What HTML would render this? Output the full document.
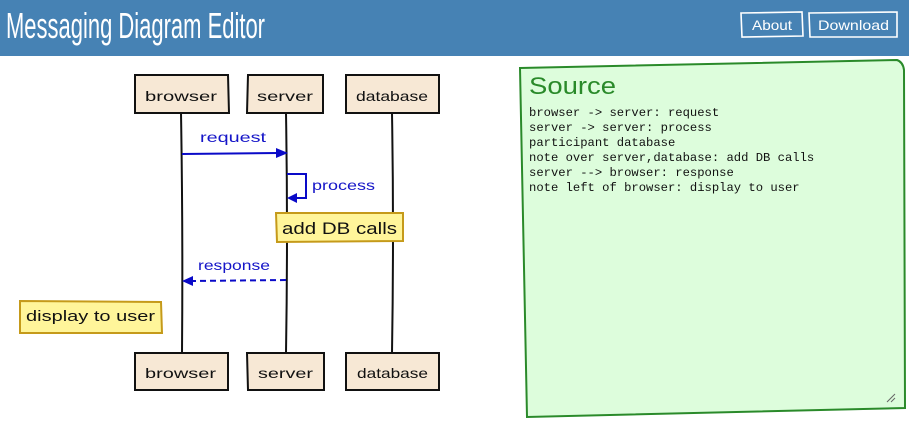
<!DOCTYPE html>
<html><head><meta charset="utf-8"><style>
html,body{margin:0;padding:0;background:#fff;width:909px;height:423px;overflow:hidden}
svg{display:block}
.h{font-family:"Liberation Sans",sans-serif}
.m{font-family:"Liberation Mono",monospace;font-size:12.2px;fill:#111}
</style></head><body>
<svg width="909" height="423" viewBox="0 0 909 423" xmlns="http://www.w3.org/2000/svg">
<rect x="0" y="0" width="909" height="56" fill="#4682b4"/>
<text class="h" x="6" y="38" font-size="36" fill="#fff" textLength="259" lengthAdjust="spacingAndGlyphs">Messaging Diagram Editor</text>
<path d="M741 13 L802 12 L803 36 L742 37 Z" fill="none" stroke="#fff" stroke-width="1.6"/>
<text class="h" x="752" y="30" font-size="14" fill="#fff" textLength="40" lengthAdjust="spacingAndGlyphs">About</text>
<path d="M809 13 L897 12 L897 37 L810 37 Z" fill="none" stroke="#fff" stroke-width="1.6"/>
<text class="h" x="818" y="30" font-size="14" fill="#fff" textLength="71" lengthAdjust="spacingAndGlyphs">Download</text>

<!-- lifelines -->
<g stroke="#111" stroke-width="2" fill="none">
<path d="M181 113 Q183 230 182 353"/>
<path d="M286 113 Q288 230 286 353"/>
<path d="M392 113 Q394 230 392 353"/>
</g>

<!-- participant boxes -->
<g fill="#f7e8d5" stroke="#111" stroke-width="2">
<path d="M135 75 L228 75 L229 113 L135 113 Z"/>
<path d="M248 75 L323 75 L323 113 L247 113 Z"/>
<path d="M346 75 L439 75 L439 113 L346 113 Z"/>
<path d="M135 353 L228 353 L228 390 L135 390 Z"/>
<path d="M247 353 L324 353 L324 390 L248 390 Z"/>
<path d="M346 353 L439 353 L439 390 L346 390 Z"/>
</g>
<g class="h" font-size="14" fill="#111">
<text x="145" y="101" textLength="72" lengthAdjust="spacingAndGlyphs">browser</text>
<text x="257" y="101" textLength="56" lengthAdjust="spacingAndGlyphs">server</text>
<text x="356" y="101" textLength="72" lengthAdjust="spacingAndGlyphs">database</text>
<text x="145" y="378" textLength="71" lengthAdjust="spacingAndGlyphs">browser</text>
<text x="258" y="378" textLength="55" lengthAdjust="spacingAndGlyphs">server</text>
<text x="357" y="378" textLength="71" lengthAdjust="spacingAndGlyphs">database</text>
</g>

<!-- request -->
<path d="M182 154 L278 153" stroke="#0a0ac8" stroke-width="2" fill="none"/>
<path d="M288 153 L276 148 L276 158 Z" fill="#0a0ac8"/>
<text class="h" x="200" y="142" font-size="14" fill="#1515c8" textLength="66" lengthAdjust="spacingAndGlyphs">request</text>

<!-- process self loop -->
<path d="M287 174 L306 174 L306 198 L295 198" stroke="#0a0ac8" stroke-width="2" fill="none"/>
<path d="M287 198 L297 193 L297 203 Z" fill="#0a0ac8"/>
<text class="h" x="312" y="190" font-size="14" fill="#1515c8" textLength="63" lengthAdjust="spacingAndGlyphs">process</text>

<!-- add DB calls note -->
<path d="M276 213 L403 213 L403 241 L277 242 Z" fill="#fff59a" stroke="#c59a1a" stroke-width="2"/>
<text class="h" x="282" y="234" font-size="17" fill="#111" textLength="115" lengthAdjust="spacingAndGlyphs">add DB calls</text>

<!-- response -->
<path d="M286 280 L192 281" stroke="#0a0ac8" stroke-width="2" stroke-dasharray="6,4" fill="none"/>
<path d="M182 281 L193 276 L193 286 Z" fill="#0a0ac8"/>
<text class="h" x="198" y="270" font-size="14" fill="#1515c8" textLength="72" lengthAdjust="spacingAndGlyphs">response</text>

<!-- display to user note -->
<path d="M20 301 L161 302 L162 333 L20 333 Z" fill="#fff59a" stroke="#c59a1a" stroke-width="2"/>
<text class="h" x="26" y="321" font-size="15" fill="#111" textLength="129" lengthAdjust="spacingAndGlyphs">display to user</text>

<!-- source panel -->
<path d="M520 68 L897 60 Q903 62 904 70 L905 408 L527 417 Z" fill="#ddfddc" stroke="#2a8a2a" stroke-width="2"/>
<text class="h" x="529" y="94" font-size="24" fill="#2a8a2a" textLength="87" lengthAdjust="spacingAndGlyphs">Source</text>
<text class="m" x="529" y="116">browser -&gt; server: request</text>
<text class="m" x="529" y="131">server -&gt; server: process</text>
<text class="m" x="529" y="146">participant database</text>
<text class="m" x="529" y="161">note over server,database: add DB calls</text>
<text class="m" x="529" y="176">server --&gt; browser: response</text>
<text class="m" x="529" y="191">note left of browser: display to user</text>
<g stroke="#666" stroke-width="1">
<path d="M887 402 L895 394"/>
<path d="M891 402 L895 398"/>
</g>
</svg>
</body></html>
